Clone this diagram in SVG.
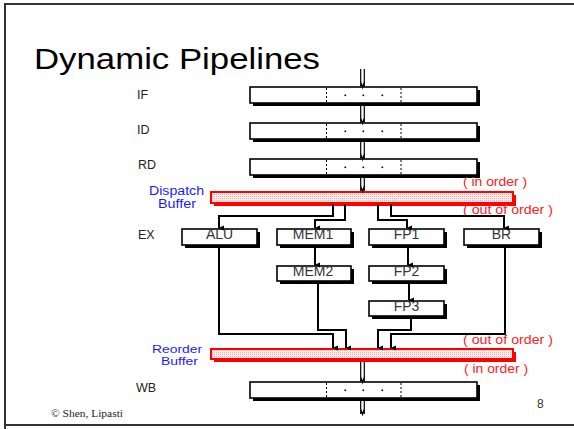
<svg xmlns="http://www.w3.org/2000/svg" width="574" height="429" viewBox="0 0 574 429">
  <style>
    .lbl { font-family: "Liberation Sans", Arial, sans-serif; font-size: 12.5px; fill: #222; }
    .box-t { font-family: "Liberation Sans", Arial, sans-serif; font-size: 14px; fill: #333; text-anchor: middle; }
    .blue { font-family: "Liberation Sans", Arial, sans-serif; font-size: 12.5px; fill: #1a1aff; }
    .blue-s { font-family: "Liberation Sans", Arial, sans-serif; font-size: 11px; fill: #1a1aff; }
    .red { font-family: "Liberation Sans", Arial, sans-serif; font-size: 12.5px; fill: #ff2020; }
    .shadow { fill: #000; }
    .box { fill: #fff; stroke: #000; stroke-width: 1.6; }
    .buf-shadow { fill: #ff0000; }
    .buf { fill: url(#pinkdots); stroke: #ff0000; stroke-width: 2; }
    .dash { stroke: #000; stroke-width: 1; stroke-dasharray: 2 2; }
    .dot { fill: #000; }
    .wire { fill: none; stroke: #000; stroke-width: 2; }
    .fat { fill: #fff; stroke: #000; stroke-width: 1.2; }
    .rail { stroke: #000; stroke-width: 1.2; }
  </style>
  <defs>
    <pattern id="pinkdots" width="2" height="2" patternUnits="userSpaceOnUse">
      <rect width="2" height="2" fill="#fdeaea"/>
      <rect width="1" height="1" fill="#f3b4b4"/>
    </pattern>
    <marker id="ah" markerWidth="6" markerHeight="6" refX="3" refY="5" orient="auto-start-reverse" markerUnits="userSpaceOnUse" viewBox="0 0 6 6">
      <path d="M0.5,0 L3,5.5 L5.5,0 Z" fill="#000"/>
    </marker>
    <!-- wide pipeline latch with three-dot separator -->
    <g id="latch">
      <rect class="shadow" x="3" y="3" width="227" height="16"/>
      <rect class="box" x="0" y="0" width="227" height="16"/>
      <line class="dash" x1="76.5" y1="1" x2="76.5" y2="15"/>
      <line class="dash" x1="151" y1="1" x2="151" y2="15"/>
      <rect class="dot" x="94.5" y="7.5" width="1.6" height="1.6"/>
      <rect class="dot" x="112.5" y="7.5" width="1.6" height="1.6"/>
      <rect class="dot" x="131.5" y="7.5" width="1.6" height="1.6"/>
    </g>
    <!-- hollow down arrow head between stages -->
    <path id="fat" class="fat" d="M-1.8,0 V-5 L0,0.5 L1.8,-5 V0" />
  </defs>

  <!-- slide frame -->
  <path d="M5,429 V4 H574 M5,425 H574" fill="none" stroke="#333" stroke-width="2"/>

  <text x="34" y="69" font-family="'Liberation Sans', Arial, sans-serif" font-size="30" fill="#000" textLength="286" lengthAdjust="spacingAndGlyphs">Dynamic Pipelines</text>

  <!-- stage labels -->
  <g id="stage-labels">
    <text class="lbl" x="137" y="99">IF</text>
    <text class="lbl" x="137" y="134">ID</text>
    <text class="lbl" x="138" y="169">RD</text>
    <text class="lbl" x="138" y="239">EX</text>
    <text class="lbl" x="136" y="392">WB</text>
  </g>

  <!-- in-order stages -->
  <g id="IF"><use href="#latch" x="250" y="87"/></g>
  <g id="ID"><use href="#latch" x="250" y="123"/></g>
  <g id="RD"><use href="#latch" x="250" y="159"/></g>
  <g id="WB"><use href="#latch" x="250" y="382"/></g>

  <!-- dispatch buffer -->
  <g id="dispatch-buffer">
    <rect class="buf-shadow" x="214" y="195" width="302" height="11"/>
    <rect class="buf" x="211" y="192" width="302" height="11"/>
    <text class="blue" x="149" y="195" textLength="55" lengthAdjust="spacingAndGlyphs">Dispatch</text>
    <text class="blue" x="158" y="208" textLength="38" lengthAdjust="spacingAndGlyphs">Buffer</text>
  </g>

  <!-- reorder buffer -->
  <g id="reorder-buffer">
    <rect class="buf-shadow" x="214" y="352" width="302" height="10"/>
    <rect class="buf" x="211" y="349" width="302" height="10"/>
    <text class="blue-s" x="152" y="353" textLength="50" lengthAdjust="spacingAndGlyphs">Reorder</text>
    <text class="blue-s" x="161" y="364.5" textLength="37" lengthAdjust="spacingAndGlyphs">Buffer</text>
  </g>

  <!-- order annotations -->
  <g id="order-notes">
    <text class="red" x="463" y="186" textLength="64" lengthAdjust="spacingAndGlyphs">( in order )</text>
    <text class="red" x="463" y="214" textLength="90" lengthAdjust="spacingAndGlyphs">( out of order )</text>
    <text class="red" x="463" y="344" textLength="90" lengthAdjust="spacingAndGlyphs">( out of order )</text>
    <text class="red" x="464" y="373" textLength="64" lengthAdjust="spacingAndGlyphs">( in order )</text>
  </g>

  <!-- execution units -->
  <g id="ALU">
    <rect class="shadow" x="185" y="232" width="75" height="16"/>
    <rect class="box" x="182" y="229" width="75" height="16"/>
    <text class="box-t" x="219.5" y="239">ALU</text>
  </g>
  <g id="MEM1">
    <rect class="shadow" x="280" y="232" width="74" height="16"/>
    <rect class="box" x="277" y="229" width="74" height="16"/>
    <text class="box-t" x="313" y="239">MEM1</text>
  </g>
  <g id="FP1">
    <rect class="shadow" x="372" y="232" width="75" height="16"/>
    <rect class="box" x="369" y="229" width="75" height="16"/>
    <text class="box-t" x="406.5" y="239">FP1</text>
  </g>
  <g id="BR">
    <rect class="shadow" x="467" y="232" width="75" height="16"/>
    <rect class="box" x="464" y="229" width="75" height="16"/>
    <text class="box-t" x="501.5" y="239">BR</text>
  </g>
  <g id="MEM2">
    <rect class="shadow" x="280" y="269" width="74" height="15"/>
    <rect class="box" x="277" y="266" width="74" height="15"/>
    <text class="box-t" x="313" y="276">MEM2</text>
  </g>
  <g id="FP2">
    <rect class="shadow" x="372" y="269" width="75" height="15"/>
    <rect class="box" x="369" y="266" width="75" height="15"/>
    <text class="box-t" x="406.5" y="276">FP2</text>
  </g>
  <g id="FP3">
    <rect class="shadow" x="372" y="304" width="75" height="15"/>
    <rect class="box" x="369" y="301" width="75" height="15"/>
    <text class="box-t" x="406.5" y="311">FP3</text>
  </g>

  <text x="537" y="408" font-family="'Liberation Sans', Arial, sans-serif" font-size="12" fill="#333">8</text>
  <text x="51" y="417" font-family="'Liberation Serif', 'Times New Roman', serif" font-size="10.5" fill="#222" textLength="72" lengthAdjust="spacingAndGlyphs">© Shen, Lipasti</text>

  <!-- connectors -->
  <g id="connectors">
    <!-- in-order flow arrows: two rails ending in a hollow head -->
    <g>
      <line class="rail" x1="360.7" y1="69" x2="360.7" y2="82"/>
      <line class="rail" x1="364.3" y1="69" x2="364.3" y2="82"/>
      <use href="#fat" x="362.5" y="87"/>
      <line class="rail" x1="360.7" y1="106" x2="360.7" y2="118"/>
      <line class="rail" x1="364.3" y1="106" x2="364.3" y2="118"/>
      <use href="#fat" x="362.5" y="123"/>
      <line class="rail" x1="360.7" y1="142" x2="360.7" y2="154"/>
      <line class="rail" x1="364.3" y1="142" x2="364.3" y2="154"/>
      <use href="#fat" x="362.5" y="159"/>
      <line class="rail" x1="360.7" y1="178" x2="360.7" y2="186"/>
      <line class="rail" x1="364.3" y1="178" x2="364.3" y2="186"/>
      <use href="#fat" x="362.5" y="191"/>
      <line class="rail" x1="360.7" y1="362" x2="360.7" y2="377"/>
      <line class="rail" x1="364.3" y1="362" x2="364.3" y2="377"/>
      <use href="#fat" x="362.5" y="382"/>
      <line class="rail" x1="360.7" y1="401" x2="360.7" y2="409"/>
      <line class="rail" x1="364.3" y1="401" x2="364.3" y2="409"/>
      <use href="#fat" x="362.5" y="414"/>
    </g>
    <!-- dispatch to units -->
    <path class="wire" d="M333,204 V216 H219 V228" marker-end="url(#ah)"/>
    <path class="wire" d="M345,204 V220 H315 V228" marker-end="url(#ah)"/>
    <path class="wire" d="M378,204 V220 H407 V228" marker-end="url(#ah)"/>
    <path class="wire" d="M391,204 V216 H504 V228" marker-end="url(#ah)"/>
    <!-- unit chains -->
    <path class="wire" d="M315,246 V265" marker-end="url(#ah)"/>
    <path class="wire" d="M408,246 V265" marker-end="url(#ah)"/>
    <path class="wire" d="M409,283 V300" marker-end="url(#ah)"/>
    <!-- units to reorder buffer -->
    <path class="wire" d="M219,246 V334 H333 V348" marker-end="url(#ah)"/>
    <path class="wire" d="M318,283 V330 H346 V348" marker-end="url(#ah)"/>
    <path class="wire" d="M411,318 V330 H378 V348" marker-end="url(#ah)"/>
    <path class="wire" d="M505,246 V334 H391 V348" marker-end="url(#ah)"/>
  </g>
</svg>
